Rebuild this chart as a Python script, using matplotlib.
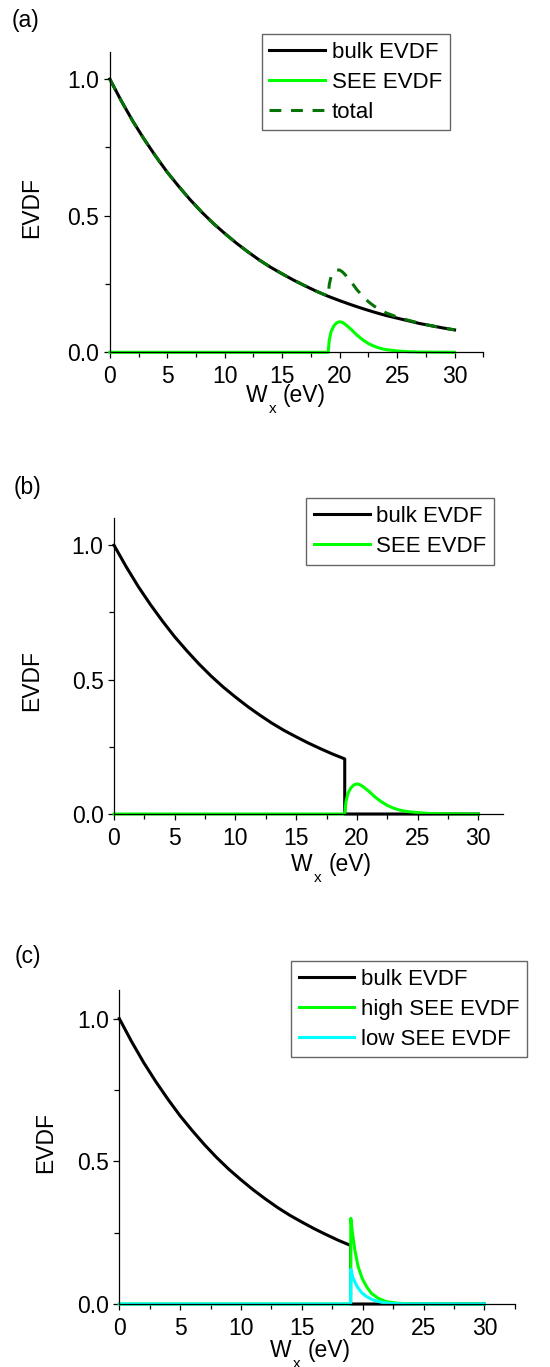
import matplotlib
matplotlib.use("Agg")
import matplotlib.pyplot as plt
from matplotlib.ticker import MultipleLocator, FormatStrFormatter

plt.rcParams['font.family'] = ['Liberation Sans', 'DejaVu Sans']
plt.rcParams['font.size'] = 16
plt.rcParams['lines.scale_dashes'] = False

# bulk EVDF, 1 eV steps
w_bulk = [0, 1, 2, 3, 4, 5, 6, 7, 8, 9, 10, 11, 12, 13, 14, 15,
          16, 17, 18, 19, 20, 21, 22, 23, 24, 25, 26, 27, 28, 29, 30]
bulk = [1.000, 0.920, 0.846, 0.779, 0.717, 0.659, 0.607, 0.558, 0.513, 0.472,
        0.435, 0.400, 0.368, 0.338, 0.311, 0.287, 0.264, 0.243, 0.223, 0.205,
        0.189, 0.174, 0.160, 0.147, 0.135, 0.125, 0.115, 0.105, 0.097, 0.089, 0.082]

# bulk EVDF truncated at the wall potential (panels b, c)
w_cut = [0, 1, 2, 3, 4, 5, 6, 7, 8, 9, 10, 11, 12, 13, 14, 15,
         16, 17, 18, 19, 19, 30]
bulk_cut = [1.000, 0.920, 0.846, 0.779, 0.717, 0.659, 0.607, 0.558, 0.513, 0.472,
            0.435, 0.400, 0.368, 0.338, 0.311, 0.287, 0.264, 0.243, 0.223, 0.205,
            0.0, 0.0]

# SEE EVDF (panels a, b)
w_see = [0, 19.0, 19.1, 19.25, 19.5, 19.75, 20.0, 20.25, 20.5, 21.0, 21.5,
         22.0, 22.5, 23.0, 23.5, 24.0, 25.0, 26.0, 27.0, 30.0]
see = [0, 0, 0.045, 0.075, 0.097, 0.108, 0.112, 0.109, 0.102, 0.084, 0.063,
       0.046, 0.032, 0.022, 0.015, 0.010, 0.005, 0.002, 0.001, 0]

# total EVDF (panel a)
w_tot = [0, 1, 2, 3, 4, 5, 6, 7, 8, 9, 10, 11, 12, 13, 14, 15, 16, 17, 18,
         19.0, 19.1, 19.25, 19.5, 19.75, 20.0, 20.25, 20.5, 21.0, 21.5, 22.0,
         22.5, 23.0, 23.5, 24.0, 25, 26, 27, 28, 29, 30]
total = [1.000, 0.920, 0.846, 0.779, 0.717, 0.659, 0.607, 0.558, 0.513, 0.472,
         0.435, 0.400, 0.368, 0.338, 0.311, 0.287, 0.264, 0.243, 0.223,
         0.205, 0.249, 0.276, 0.294, 0.301, 0.301, 0.294, 0.283, 0.258, 0.229, 0.206,
         0.185, 0.169, 0.156, 0.145, 0.129, 0.117, 0.106, 0.097, 0.089, 0.082]

# high / low SEE EVDF (panel c)
w_hi = [0, 19.0, 19.02, 19.16, 19.35, 19.62, 19.95, 20.31, 20.72, 21.27, 21.95, 22.78, 24.0, 30]
hi = [0, 0, 0.300, 0.247, 0.189, 0.131, 0.090, 0.061, 0.037, 0.020, 0.008, 0.003, 0.0005, 0]
w_lo = [0, 19.0, 19.02, 19.21, 19.54, 19.9, 20.31, 20.85, 21.54, 22.2, 23.5, 30]
lo = [0, 0, 0.121, 0.090, 0.061, 0.040, 0.026, 0.014, 0.006, 0.002, 0.0003, 0]

BLACK = 'black'
GREEN = '#00ff00'
DKGREEN = '#067306'
CYAN = '#00ffff'
LW = 2.2
FS = 16.5

W, H = 550, 1367
fig = plt.figure(figsize=(W / 100, H / 100), dpi=100)


def make_axes(left, top, right, bottom, xmax):
    ax = fig.add_axes([left / W, 1 - bottom / H, (right - left) / W, (bottom - top) / H])
    ax.set_xlim(0, xmax)
    ax.set_ylim(0, 1.1)
    for s in ['top', 'right']:
        ax.spines[s].set_visible(False)
    for s in ['left', 'bottom']:
        ax.spines[s].set_linewidth(0.9)
    ax.xaxis.set_major_locator(MultipleLocator(5))
    ax.xaxis.set_minor_locator(MultipleLocator(2.5))
    ax.yaxis.set_major_locator(MultipleLocator(0.5))
    ax.yaxis.set_minor_locator(MultipleLocator(0.25))
    ax.yaxis.set_major_formatter(FormatStrFormatter('%.1f'))
    ax.tick_params(which='major', direction='out', length=4.5, width=0.9, labelsize=FS)
    ax.tick_params(which='minor', direction='out', length=3.5, width=0.9)
    ax.tick_params(axis='x', which='major', pad=5)
    ax.tick_params(axis='y', which='major', pad=3)
    return ax


def labels(ax, w_left, w_base, yl_x, yl_y):
    # x label built by hand: the subscript sits lower than mathtext puts it
    t1 = fig.text(w_left / W, 1 - w_base / H, 'W', ha='left', va='baseline', fontsize=FS)
    t2 = ax.annotate('x', xy=(1, 0.22), xycoords=t1, xytext=(1, 0), textcoords='offset points',
                     ha='left', va='top', fontsize=11)
    ax.annotate('(eV)', xy=(1, 0), xycoords=(t2, t1), xytext=(5, 0), textcoords='offset points',
                ha='left', va='bottom', fontsize=FS)
    ax.text(yl_x, yl_y, 'EVDF', rotation=90, ha='center', va='center',
            transform=ax.transAxes, fontsize=FS)


def legend(ax, left, top):
    leg = ax.legend(loc='upper left', bbox_to_anchor=(left / W, 1 - top / H),
                    bbox_transform=fig.transFigure, borderaxespad=0,
                    fancybox=False, frameon=True, handlelength=2.5,
                    handletextpad=0.3, borderpad=0.35, labelspacing=0.4,
                    fontsize=16)
    leg.get_frame().set_edgecolor('#404040')
    leg.get_frame().set_linewidth(1.0)
    return leg


# (a)
ax1 = make_axes(109.8, 51.7, 483.3, 352.3, 32.5)
ax1.plot(w_bulk, bulk, color=BLACK, lw=LW, label='bulk EVDF', clip_on=False)
ax1.plot(w_see, see, color=GREEN, lw=LW, label='SEE EVDF', clip_on=False)
ax1.plot(w_tot, total, color=DKGREEN, lw=LW, dashes=(8.5, 7), label='total', clip_on=False)
labels(ax1, 245.5, 401.7, -0.21, 0.482)
legend(ax1, 261.5, 34)

# (b)
ax2 = make_axes(114.0, 518.3, 502.6, 814.0, 32.0)
ax2.plot(w_cut, bulk_cut, color=BLACK, lw=LW, label='bulk EVDF', clip_on=False)
ax2.plot(w_see, see, color=GREEN, lw=LW, label='SEE EVDF', clip_on=False)
labels(ax2, 291.1, 870.7, -0.211, 0.45)
legend(ax2, 306.2, 498.3)

# (c)
ax3 = make_axes(119.3, 990.0, 514.9, 1304.0, 32.5)
ax3.plot(w_cut, bulk_cut, color=BLACK, lw=LW, label='bulk EVDF', clip_on=False)
ax3.plot(w_hi, hi, color=GREEN, lw=LW, label='high SEE EVDF', clip_on=False)
ax3.plot(w_lo, lo, color=CYAN, lw=LW, label='low SEE EVDF', clip_on=False)
labels(ax3, 270.0, 1357.0, -0.186, 0.514)
legend(ax3, 291.1, 961)

fig.text(25.5 / W, 1 - 20.8 / H, '(a)', ha='center', va='center', fontsize=FS)
fig.text(27.7 / W, 1 - 487.5 / H, '(b)', ha='center', va='center', fontsize=FS)
fig.text(27.7 / W, 1 - 956.7 / H, '(c)', ha='center', va='center', fontsize=FS)

fig.savefig('out.png', dpi=100)
